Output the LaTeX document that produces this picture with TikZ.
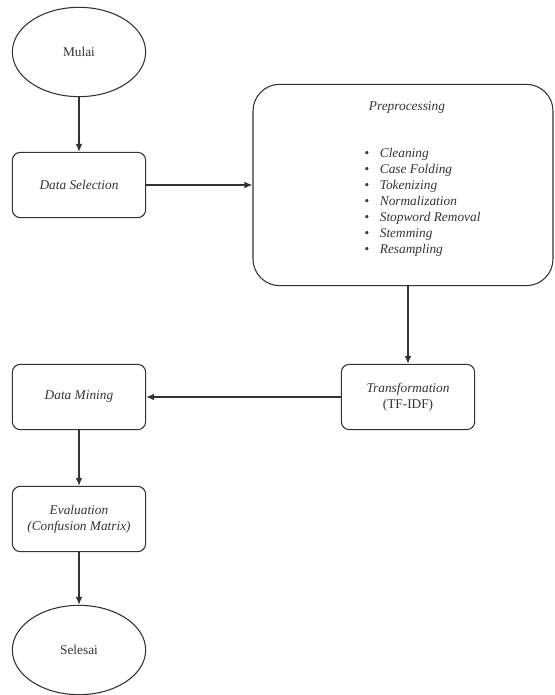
\documentclass[tikz,border=0pt]{standalone}
\usepackage{fontspec}
\setmainfont{Liberation Serif}
\usetikzlibrary{arrows.meta,shapes.geometric}

\begin{document}
\begin{tikzpicture}[x=0.75pt,y=-0.75pt,
    font=\fontsize{10pt}{12pt}\selectfont,
    line width=0.8pt,
    every node/.style={text=black!80},
    terminal/.style={draw=black!80,ellipse,minimum width=100pt,minimum height=67pt,inner sep=0pt},
    process/.style={draw=black!80,rounded corners=6pt,minimum width=100pt,minimum height=49pt,align=center},
    bigprocess/.style={draw=black!80,rounded corners=20pt,minimum width=225pt,minimum height=151pt},
    flow/.style={draw=black!80,-{Latex[length=6pt,width=5pt]}}]
   \useasboundingbox (0,0) rectangle (554,695);

   \node[terminal] (mulai) at (79,52) {Mulai};
   \node[process] (selection) at (79,185) {\textit{Data Selection}};
   \node[bigprocess] (preproc) at (403,185) {};
   \node (preproctitle) at (407,108) {\textit{Preprocessing}};
   \node[anchor=north west,inner sep=0pt] (preproclist) at (364,146) {%
     \begin{tabular}{@{}l@{\hspace{8pt}}l@{}}
       \textbullet & \textit{Cleaning}\\
       \textbullet & \textit{Case Folding}\\
       \textbullet & \textit{Tokenizing}\\
       \textbullet & \textit{Normalization}\\
       \textbullet & \textit{Stopword Removal}\\
       \textbullet & \textit{Stemming}\\
       \textbullet & \textit{Resampling}
     \end{tabular}};
   \node[process] (transform) at (408,397) {\textit{Transformation}\\(TF-IDF)};
   \node[process] (mining) at (79,397) {\textit{Data Mining}};
   \node[process] (eval) at (79,519) {\textit{Evaluation}\\\textit{(Confusion Matrix)}};
   \node[terminal] (selesai) at (79,650) {Selesai};

   % alur
   \draw[flow] (mulai) -- (selection);
   \draw[flow] (selection) -- (preproc);
   \draw[flow] (preproc.south -| transform.north) -- (transform);
   \draw[flow] (transform) -- (mining);
   \draw[flow] (mining) -- (eval);
   \draw[flow] (eval) -- (selesai);
\end{tikzpicture}
\end{document}
